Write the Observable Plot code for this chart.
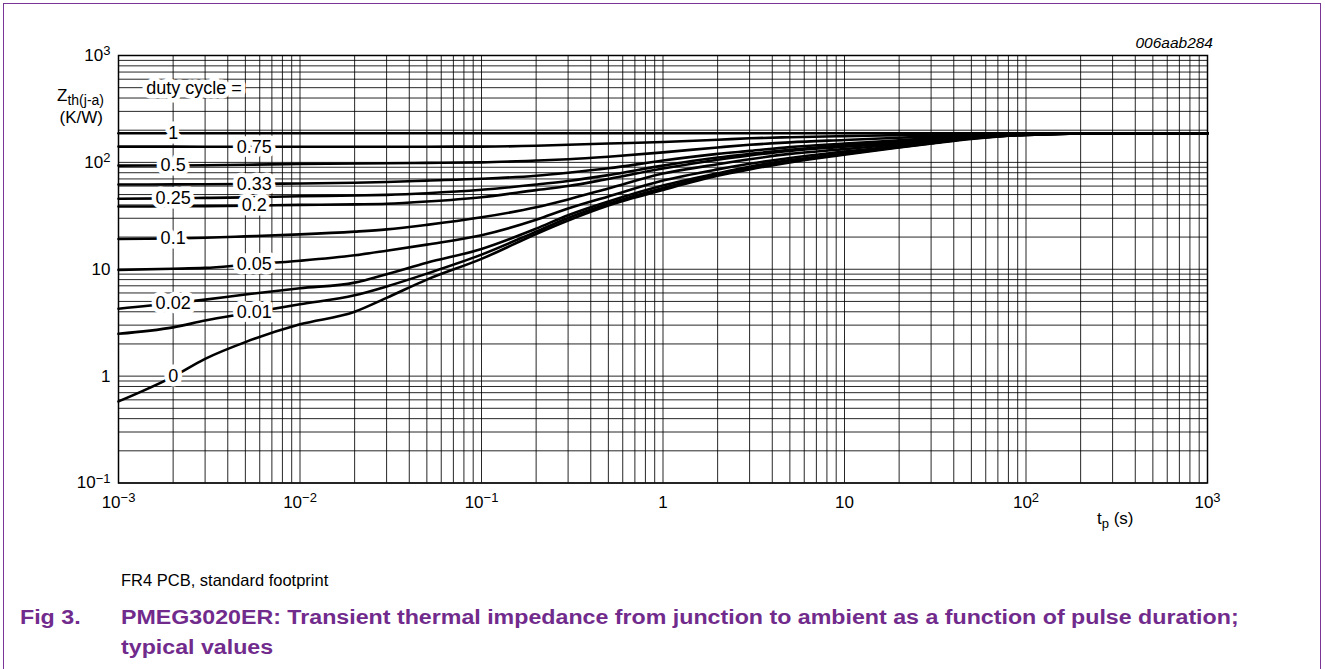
<!DOCTYPE html>
<html><head><meta charset="utf-8">
<script src="https://cdn.jsdelivr.net/npm/d3@7"></script>
<script src="https://cdn.jsdelivr.net/npm/@observablehq/plot@0.6"></script>
<style>
html,body{margin:0;padding:0;background:#fff;}
body{width:1325px;height:669px;position:relative;overflow:hidden;font-family:"Liberation Sans",Arial,sans-serif;color:#000;}
#frame{position:absolute;left:3px;top:3px;width:1318px;height:720px;border:1.5px solid #7b3594;box-sizing:border-box;}
#chart{position:absolute;left:0;top:0;}
.t{position:absolute;white-space:nowrap;line-height:1;}
.purple{color:#712b8c;font-weight:bold;transform:scaleX(1.16);transform-origin:0 50%;}
</style></head><body>
<div id="frame"></div>
<div id="chart"></div>
<div class="t" style="right:112px;top:35px;font-size:15.5px;font-style:italic;">006aab284</div>
<div class="t" style="right:1221px;top:87px;font-size:17px;">Z<span style="font-size:14px;position:relative;top:4px;">th(j-a)</span></div>
<div class="t" style="right:1222px;top:109px;font-size:17px;">(K/W)</div>
<div class="t" style="left:1097px;top:510px;font-size:17px;">t<span style="font-size:13px;position:relative;top:4px;">p</span> (s)</div>
<div class="t" style="left:121px;top:572px;font-size:16.5px;">FR4 PCB, standard footprint</div>
<div class="t purple" style="left:20px;top:607px;font-size:20px;">Fig 3.</div>
<div class="t purple" style="left:121px;top:607px;font-size:20px;">PMEG3020ER: Transient thermal impedance from junction to ambient as a function of pulse duration;</div>
<div class="t purple" style="left:121px;top:637px;font-size:20px;">typical values</div>
<script>
// pulse duration tp (s)
const tp = [0.001, 0.002, 0.003, 0.005, 0.01, 0.02, 0.03, 0.05, 0.1, 0.2, 0.3, 0.5, 1, 2, 3, 5, 10, 20, 30, 50, 100, 300, 1000];
// Zth(j-a) (K/W) per duty cycle
const zD100 = [187, 187, 187, 187, 187, 187, 187, 187, 187, 187, 187, 187, 187, 187, 187, 187, 187, 187, 187, 187, 187, 187, 187];
const zD075 = [140.5, 140.3, 140, 140, 140, 140, 140, 140.2, 140.5, 143, 146, 150, 155, 163, 168, 172, 176, 180, 182, 184, 187, 187, 187];
const zD050 = [93.3, 93.6, 94, 95, 96.8, 97.5, 98, 99, 100, 104, 107, 113, 124, 138, 146, 154, 162, 170, 175, 180, 186, 187, 187];
const zD033 = [62, 62.2, 62.5, 62.8, 63.5, 64.5, 65.6, 67.5, 70.2, 75, 80, 88, 104, 120, 128, 139, 150, 161, 169, 177, 185, 187, 187];
const zD025 = [45.6, 46, 46.5, 47, 48.2, 49, 49.7, 51.5, 55.4, 62, 67, 76, 93.3, 111, 120, 131, 145, 157, 166, 176, 184, 187, 187];
const zD020 = [38.6, 38.8, 39, 39.3, 40, 40.5, 41, 43, 47.2, 55, 60, 70, 87.5, 106, 116, 128, 140, 153, 163, 174, 184, 187, 187];
const zD010 = [19.2, 19.4, 19.7, 20.3, 21.2, 22.5, 23.6, 26.0, 30.6, 38, 45, 57, 78.6, 96, 107, 120, 133, 148, 159, 172, 183, 187, 187];
const zD005 = [9.87, 10.1, 10.3, 11.0, 12.0, 13.5, 14.9, 17.0, 20.8, 29, 37, 48, 67.6, 86, 97, 110, 126, 143, 155, 170, 182, 187, 187];
const zD002 = [4.27, 4.8, 5.2, 5.8, 6.64, 7.5, 9.0, 11.5, 15.5, 24, 32, 43, 60.7, 79, 91, 105, 121, 140, 152, 168, 181, 187, 187];
const zD001 = [2.49, 2.86, 3.31, 3.85, 4.7, 5.7, 6.9, 9.1, 13.7, 22.5, 30.2, 41, 57.5, 77, 88, 102, 120, 139, 151, 167, 181, 187, 187];
const zD000 = [0.58, 0.99, 1.45, 2.08, 3.05, 4.0, 5.4, 8.0, 12.5, 21.4, 28.6, 39.5, 55.3, 75, 86, 100, 118, 138, 150, 166, 181, 187, 187];

const dutyLabels = ["1", "0.75", "0.5", "0.33", "0.25", "0.2", "0.1", "0.05", "0.02", "0.01", "0"];
const dutySeries = [zD100, zD075, zD050, zD033, zD025, zD020, zD010, zD005, zD002, zD001, zD000];
// label placement: tp at which each label sits on its curve
const labelTp = [0.002, 0.0056, 0.002, 0.0056, 0.002, 0.0056, 0.002, 0.0056, 0.002, 0.0056, 0.002];

const xTicks = [0.001, 0.01, 0.1, 1, 10, 100, 1000];
const xTickLabels = ["10^\u22123", "10^\u22122", "10^\u22121", "1", "10", "10^2", "10^3"];
const yTicks = [0.1, 1, 10, 100, 1000];
const yTickLabels = ["10^\u22121", "1", "10", "10^2", "10^3"];

const rows = dutyLabels.flatMap((d, j) => tp.map((t, i) => ({duty: d, t, z: dutySeries[j][i]})));

function interpLog(ts, zs, t) {
  for (let i = 0; i < ts.length - 1; i++) {
    if (t >= ts[i] && t <= ts[i + 1]) {
      const f = (Math.log(t) - Math.log(ts[i])) / (Math.log(ts[i + 1]) - Math.log(ts[i]));
      return Math.exp(Math.log(zs[i]) + f * (Math.log(zs[i + 1]) - Math.log(zs[i])));
    }
  }
  return zs[zs.length - 1];
}
const labelRows = dutyLabels.map((d, j) => ({label: d, t: labelTp[j], z: interpLog(tp, dutySeries[j], labelTp[j])}));

const xGrid = d3.range(-3, 3).flatMap(e => d3.range(1, 10).map(k => +(k * Math.pow(10, e)).toPrecision(6))).concat([1000]);
const yGrid = d3.range(-1, 3).flatMap(e => d3.range(1, 10).map(k => +(k * Math.pow(10, e)).toPrecision(6))).concat([1000]);

const chart = Plot.plot({
  width: 1325,
  height: 540,
  marginLeft: 118,
  marginRight: 118,
  marginTop: 55,
  marginBottom: 57.5,
  style: {fontFamily: "'Liberation Sans', Arial, sans-serif", fontSize: "17px", background: "transparent", color: "#000"},
  x: {type: "log", domain: [0.001, 1000]},
  y: {type: "log", domain: [0.1, 1000]},
  marks: [
    Plot.ruleX(xGrid, {stroke: "#000", strokeWidth: 1, strokeOpacity: 0.85}),
    Plot.ruleY(yGrid, {stroke: "#000", strokeWidth: 1, strokeOpacity: 0.85}),
    Plot.line(rows, {x: "t", y: "z", z: "duty", stroke: "#000", strokeWidth: 2.6, curve: "monotone-x"}),
    Plot.text(labelRows, {x: "t", y: "z", text: "label", fontSize: 18, fill: "#000", stroke: "#fff", strokeWidth: 9}),
    Plot.text(["duty cycle ="], {x: 0.00142, y: 490, text: d => d, textAnchor: "start", fontSize: 18, fill: "#000", stroke: "#fff", strokeWidth: 9}),
    Plot.axisX({ticks: xTicks, tickFormat: d => xTickLabels[xTicks.indexOf(d)], tickSize: 0, tickPadding: 13, fontSize: 17, label: null}),
    Plot.axisY({ticks: yTicks, tickFormat: d => yTickLabels[yTicks.indexOf(d)], tickSize: 0, tickPadding: 8, fontSize: 17, label: null}),
    Plot.frame({stroke: "#000", strokeWidth: 1.5})
  ]
});
document.getElementById("chart").appendChild(chart);

// superscript exponents in tick labels
d3.select(chart).selectAll("g[aria-label$='tick label'] text").each(function () {
  const s = this.textContent;
  if (s.includes("^")) {
    const [b, e] = s.split("^");
    this.textContent = "";
    const sel = d3.select(this);
    sel.append("tspan").text(b);
    sel.append("tspan").attr("dy", "-0.45em").attr("font-size", "13px").text(e);
  }
});
</script>
</body></html>
